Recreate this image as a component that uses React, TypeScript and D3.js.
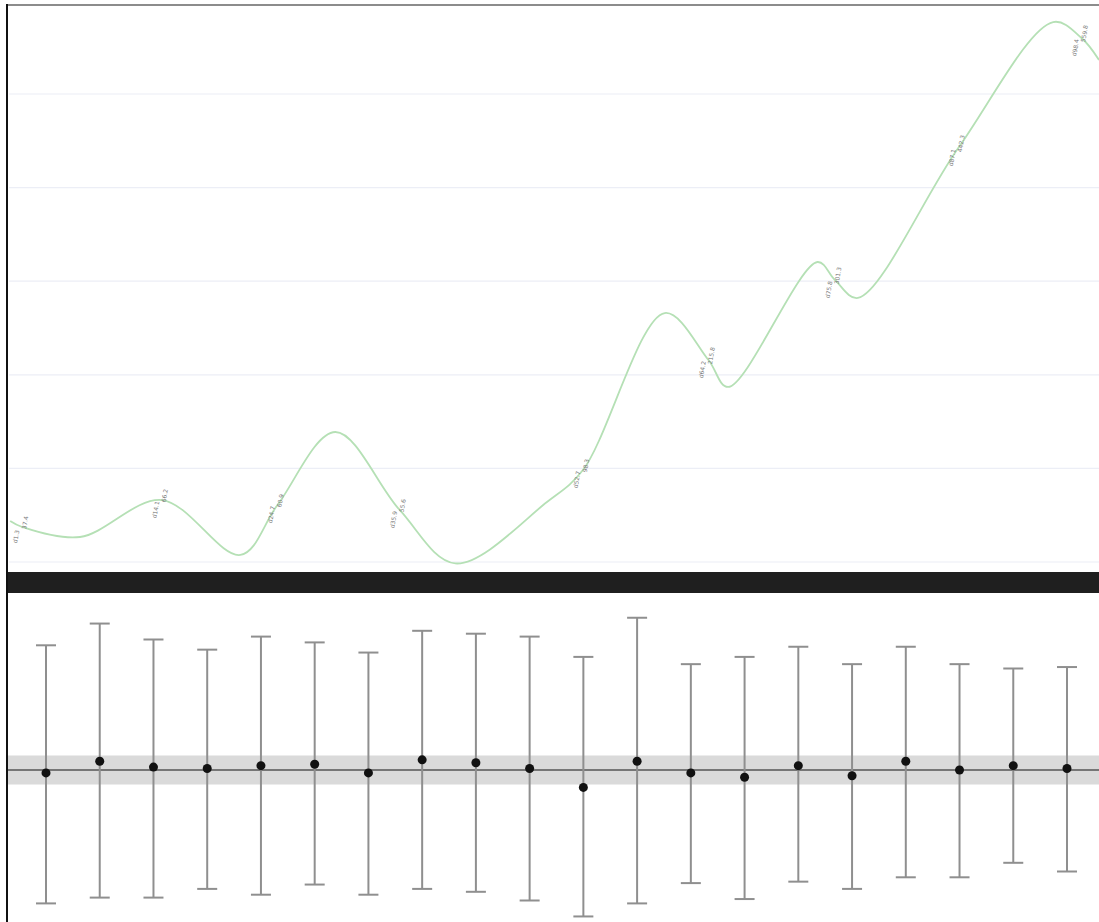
import React, { useEffect, useRef } from "react";
import * as d3 from "d3";

// Upper panel: sampled series (x in days, y in units)
const seriesX = [0.2, 1.3, 6.6, 14.1, 21.3, 24.7, 30.0, 35.9, 41.0, 49.4, 52.7, 60.2, 64.2, 66.0, 74.2, 75.8, 77.9, 87.1, 95.8, 98.4, 100];
const seriesY = [43.8, 37.4, 26.7, 66.2, 7.5, 60.9, 138.9, 55.6, -1.5, 64.1, 98.3, 266.0, 215.8, 187.0, 320.5, 301.3, 282.1, 442.3, 576.9, 559.8, 536.3];
// indices of the annotated readings
const labeledIdx = [1, 3, 5, 7, 10, 12, 15, 17, 19];
const gridTicks = [0, 100, 200, 300, 400, 500];

// Lower panel: estimates with intervals
const groups = d3.range(1, 21).map((d) => `G${d}`);
const estimates = [-0.2, 0.6, 0.2, 0.1, 0.3, 0.4, -0.2, 0.7, 0.5, 0.1, -1.2, 0.6, -0.2, -0.5, 0.3, -0.4, 0.6, 0.0, 0.3, 0.1];
const upper = [8.6, 10.1, 9.0, 8.3, 9.2, 8.8, 8.1, 9.6, 9.4, 9.2, 7.8, 10.5, 7.3, 7.8, 8.5, 7.3, 8.5, 7.3, 7.0, 7.1];
const lower = [-9.2, -8.8, -8.8, -8.2, -8.6, -7.9, -8.6, -8.2, -8.4, -9.0, -10.1, -9.2, -7.8, -8.9, -7.7, -8.2, -7.4, -7.4, -6.4, -7.0];
const refValue = 0;
const bandHalf = 1;

const W = 1099;
const H = 922;

export default function App() {
  const ref = useRef<SVGSVGElement>(null);

  useEffect(() => {
    const svg = d3.select(ref.current);
    svg.selectAll("*").remove();

    // ---- upper panel ----
    const top = svg.append("g");
    const x = d3.scaleLinear().domain([0, 100]).range([8, 1099]);
    const y = d3.scaleLinear().domain([0, 100]).range([562, 468.4]);

    top
      .selectAll("line.grid")
      .data(gridTicks)
      .join("line")
      .attr("class", "grid")
      .attr("x1", 9)
      .attr("x2", W)
      .attr("y1", (d) => y(d))
      .attr("y2", (d) => y(d))
      .attr("stroke", "#eceef6")
      .attr("stroke-width", 1.2);

    const pts = seriesX.map((v, i) => [v, seriesY[i]] as [number, number]);
    const line = d3
      .line<[number, number]>()
      .x((d) => x(d[0]))
      .y((d) => y(d[1]))
      .curve(d3.curveCatmullRom.alpha(0.5));

    top
      .append("path")
      .attr("d", line(pts))
      .attr("fill", "none")
      .attr("stroke", "#b5e0b5")
      .attr("stroke-width", 1.8);

    const labeled = labeledIdx.map((i) => pts[i]);
    const lab = top
      .selectAll("g.lab")
      .data(labeled)
      .join("g")
      .attr("class", "lab")
      .attr("transform", (d) => `translate(${x(d[0])},${y(d[1])})`)
      .attr("font-family", "DejaVu Sans, sans-serif")
      .attr("font-size", 6)
      .attr("fill", "#7a7a7a");

    lab
      .append("text")
      .attr("transform", "translate(-4,10) rotate(-80)")
      .attr("text-anchor", "middle")
      .text((d) => `d${d[0].toFixed(1)}`);
    lab
      .append("text")
      .attr("transform", "translate(5,-4) rotate(-80)")
      .attr("text-anchor", "middle")
      .text((d) => d[1].toFixed(1));

    // frame
    svg.append("line").attr("x1", 7).attr("x2", W).attr("y1", 5).attr("y2", 5).attr("stroke", "#8c8c8c").attr("stroke-width", 2);

    // separator
    svg.append("rect").attr("x", 7).attr("y", 572).attr("width", W - 7).attr("height", 21).attr("fill", "#1f1f1f");

    // ---- lower panel ----
    const bx = d3.scalePoint<string>().domain(groups).range([46, 1067]);
    const by = d3.scaleLinear().domain([-1, 1]).range([784.5, 755.5]);

    svg
      .append("rect")
      .attr("x", 8)
      .attr("width", W - 8)
      .attr("y", by(refValue + bandHalf))
      .attr("height", by(refValue - bandHalf) - by(refValue + bandHalf))
      .attr("fill", "#dadada");

    svg
      .append("line")
      .attr("x1", 8)
      .attr("x2", W)
      .attr("y1", by(refValue))
      .attr("y2", by(refValue))
      .attr("stroke", "#555")
      .attr("stroke-width", 1.5);

    const bars = svg
      .append("g")
      .selectAll("g")
      .data(groups.map((g, i) => ({ g, m: estimates[i], lo: lower[i], hi: upper[i] })))
      .join("g");

    bars
      .append("line")
      .attr("x1", (d) => bx(d.g)!)
      .attr("x2", (d) => bx(d.g)!)
      .attr("y1", (d) => by(d.hi))
      .attr("y2", (d) => by(d.lo))
      .attr("stroke", "#8f8f8f")
      .attr("stroke-width", 2);

    for (const key of ["hi", "lo"] as const) {
      bars
        .append("line")
        .attr("x1", (d) => bx(d.g)! - 10)
        .attr("x2", (d) => bx(d.g)! + 10)
        .attr("y1", (d) => by(d[key]))
        .attr("y2", (d) => by(d[key]))
        .attr("stroke", "#8f8f8f")
        .attr("stroke-width", 2);
    }

    bars
      .append("circle")
      .attr("cx", (d) => bx(d.g)!)
      .attr("cy", (d) => by(d.m))
      .attr("r", 4.5)
      .attr("fill", "#111");

    // left frame edge
    svg.append("line").attr("x1", 7).attr("x2", 7).attr("y1", 4).attr("y2", H).attr("stroke", "#111").attr("stroke-width", 2);
  }, []);

  return (
    <svg
      ref={ref}
      width={W}
      height={H}
      style={{ position: "absolute", left: 0, top: 0, background: "#fff" }}
    />
  );
}
